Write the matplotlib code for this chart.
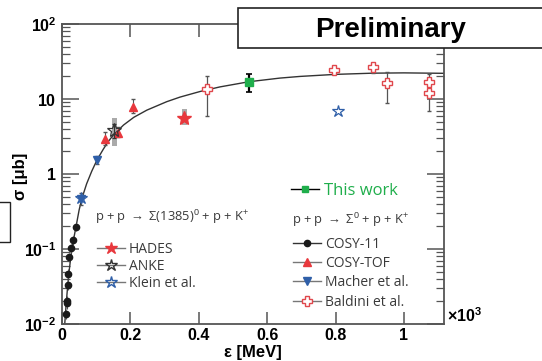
import matplotlib
matplotlib.use("Agg")
import matplotlib.pyplot as plt
from matplotlib.lines import Line2D
from matplotlib.patches import Rectangle
from matplotlib.font_manager import FontProperties
from matplotlib.ticker import NullFormatter, LogLocator

plt.rcParams['font.family'] = ['Liberation Sans', 'DejaVu Sans']
plt.rcParams['mathtext.fontset'] = 'custom'
plt.rcParams['mathtext.rm'] = 'Liberation Sans'
plt.rcParams['mathtext.bf'] = 'Liberation Sans:bold'
plt.rcParams['mathtext.it'] = 'Liberation Sans:italic'

# fit curve
curve_x = [0.008, 0.012, 0.016, 0.020, 0.026, 0.033, 0.042, 0.050, 0.058, 0.072,
           0.087, 0.103, 0.121, 0.135, 0.150, 0.180, 0.210, 0.248, 0.306, 0.345,
           0.404, 0.462, 0.547, 0.637, 0.696, 0.800, 0.909, 1.000, 1.117]
curve_y = [0.010, 0.018, 0.030, 0.047, 0.080, 0.128, 0.21, 0.33, 0.47, 0.74,
           1.09, 1.56, 2.15, 2.7, 3.3, 4.5, 5.7, 7.1, 9.2, 10.6,
           12.6, 14.5, 17.0, 19.0, 20.0, 21.3, 22.1, 22.3, 22.0]

# Sigma0 data
cosy11_x = [0.0117, 0.0137, 0.0140, 0.0167, 0.0175, 0.0213, 0.0254, 0.0313, 0.040]
cosy11_y = [0.0135, 0.0189, 0.0205, 0.0331, 0.0464, 0.0775, 0.102, 0.132, 0.198]
cosy11_err = [0.002, 0.003, 0.003, 0.005, 0.007, 0.01, 0.014, 0.018, 0.025]

cosytof_x = [0.127, 0.165, 0.208]
cosytof_y = [2.97, 3.57, 7.9]
cosytof_lo = [0.5, 0.5, 1.3]
cosytof_hi = [0.7, 0.6, 2.1]

macher_x = [0.0556, 0.103]
macher_y = [0.47, 1.56]
macher_err = [0.08, 0.2]

baldini_x = [0.425, 0.795, 0.910, 0.949, 1.074, 1.074]
baldini_y = [13.5, 24.4, 27.0, 16.2, 16.7, 12.1]
baldini_lo = [7.6, 0.0, 4.5, 7.4, 1.0, 5.1]
baldini_hi = [6.8, 0.0, 1.0, 6.5, 1.0, 9.4]

# Sigma(1385) data
hades_x = [0.358]
hades_y = [5.53]
hades_syst_lo = [4.5]
hades_syst_hi = [7.35]

anke_x = [0.153]
anke_y = [3.86]
anke_err = [0.8]
anke_syst_lo = [2.38]
anke_syst_hi = [5.58]

klein_x = [0.0556, 0.808]
klein_y = [0.48, 6.98]

# this work
this_x = [0.547]
this_y = [17.0]
this_err = [4.5]

red = '#e8383d'
blue = '#2f5fa8'
green = '#1fae4b'
gray = '#777777'

fig = plt.figure(figsize=(5.42, 3.61), dpi=100)
ax = fig.add_axes([62/542, 1-324/361, 382/542, 300/361])
ax.set_yscale('log')
ax.set_xlim(0, 1.117)
ax.set_ylim(0.01, 100)

ax.plot(curve_x, curve_y, color='#333333', lw=1.0, zorder=2)

# systematic bands
ax.bar(anke_x, [h - l for h, l in zip(anke_syst_hi, anke_syst_lo)], bottom=anke_syst_lo,
       width=0.014, color='#aaaaaa', zorder=1)
ax.bar(hades_x, [h - l for h, l in zip(hades_syst_hi, hades_syst_lo)], bottom=hades_syst_lo,
       width=0.014, color='#aaaaaa', zorder=1)

ax.errorbar(cosy11_x, cosy11_y, yerr=cosy11_err, fmt='o', ms=4.5, color='#1a1a1a',
            ecolor='#555555', elinewidth=0.8, capsize=0, zorder=4)
ax.errorbar(cosytof_x, cosytof_y, yerr=[cosytof_lo, cosytof_hi], fmt='^', ms=6, color=red,
            ecolor='#555555', elinewidth=0.8, capsize=1.5, zorder=4)
ax.errorbar(macher_x, macher_y, yerr=macher_err, fmt='v', ms=6, color=blue,
            ecolor='#555555', elinewidth=0.8, capsize=1.5, zorder=4)
ax.errorbar(baldini_x, baldini_y, yerr=[baldini_lo, baldini_hi], fmt='P', ms=7, mfc='white',
            mec='#e0474c', mew=1.0, ecolor='#555555', elinewidth=0.9, capsize=1.5, zorder=4)
ax.errorbar(anke_x, anke_y, yerr=anke_err, fmt='*', ms=10, mfc='none', mec='#333333',
            mew=0.9, ecolor='#333333', elinewidth=0.8, capsize=1.5, zorder=5)
ax.plot(hades_x, hades_y, '*', ms=10, color=red, zorder=5)
ax.plot(klein_x, klein_y, '*', ms=9, mfc='none', mec=blue, mew=0.9, zorder=5)
ax.errorbar(this_x, this_y, yerr=this_err, fmt='s', ms=6, color=green,
            ecolor='black', elinewidth=1.6, capsize=2, capthick=1.2, zorder=6)

# axes style
for s in ax.spines.values():
    s.set_color('#555555')
    s.set_linewidth(1.3)
ax.set_xticks([0, 0.2, 0.4, 0.6, 0.8, 1.0])
ax.set_xticklabels(['0', '0.2', '0.4', '0.6', '0.8', '1'])
ax.yaxis.set_major_locator(LogLocator(base=10, numticks=10))
ax.yaxis.set_minor_locator(LogLocator(base=10, subs=range(2, 10), numticks=10))
ax.yaxis.set_minor_formatter(NullFormatter())
ax.set_yticks([0.01, 0.1, 1, 10, 100])
ax.set_yticklabels([r'$\mathbf{10^{-2}}$', r'$\mathbf{10^{-1}}$', r'$\mathbf{1}$',
                    r'$\mathbf{10}$', r'$\mathbf{10^{2}}$'])
ax.tick_params(axis='both', which='both', direction='in', top=True, right=True,
               color='#555555', labelsize=11.5)
ax.tick_params(axis='x', which='major', length=9, width=1.1, pad=3)
ax.tick_params(axis='y', which='major', length=12, width=1.1, pad=4)
ax.tick_params(axis='y', which='minor', length=6, width=0.9)
for lab in ax.get_xticklabels():
    lab.set_fontweight('bold')

fig.text(20/542, 1-176/361, 'σ [μb]', rotation=90, ha='center', va='center',
         fontsize=12, fontweight='bold')
fig.text(253/542, 1-352/361, 'ε [MeV]', ha='center', va='center',
         fontsize=12, fontweight='bold')
fig.text(447/542, 1-316/361, r'$\mathbf{\times 10^{3}}$', ha='left', va='center',
         fontsize=11.5)

# legends
lfont = FontProperties(family=['Open Sans', 'DejaVu Sans'], size=10)
hfont = FontProperties(family=['Open Sans', 'DejaVu Sans'], size=9.3)
txtc = '#3a3a3a'

def ax_pos(px, py):
    return ((px - 62) / 382, (324 - py) / 300)

ax.text(*ax_pos(95, 217), r'p + p $\rightarrow$ Σ(1385)$^{0}$ + p + K$^{+}$',
        transform=ax.transAxes, ha='left', va='center', color=txtc, fontproperties=hfont)
ax.text(*ax_pos(292, 220), r'p + p $\rightarrow$ Σ$^{0}$ + p + K$^{+}$',
        transform=ax.transAxes, ha='left', va='center', color=txtc, fontproperties=hfont)

h1 = [Line2D([], [], color=gray, lw=1, marker='*', ms=9, mfc=red, mec=red),
      Line2D([], [], color=gray, lw=1, marker='*', ms=9, mfc='none', mec='#333333'),
      Line2D([], [], color=gray, lw=1, marker='*', ms=9, mfc='none', mec=blue)]
leg1 = ax.legend(h1, ['HADES', 'ANKE', 'Klein et al.'], loc='upper left',
                 bbox_to_anchor=ax_pos(97, 242), frameon=False, prop=lfont,
                 handlelength=2.0, handletextpad=0.3, labelspacing=0.15,
                 borderpad=0, borderaxespad=0, labelcolor=txtc)
ax.add_artist(leg1)

h2 = [Line2D([], [], color='#333333', lw=1, marker='o', ms=4.5, mfc='#1a1a1a', mec='#1a1a1a'),
      Line2D([], [], color=gray, lw=1, marker='^', ms=6, mfc=red, mec=red),
      Line2D([], [], color=gray, lw=1, marker='v', ms=6, mfc=blue, mec=blue),
      Line2D([], [], color=gray, lw=1, marker='P', ms=7, mfc='white', mec='#e0474c')]
leg2 = ax.legend(h2, ['COSY-11', 'COSY-TOF', 'Macher et al.', 'Baldini et al.'],
                 loc='upper left', bbox_to_anchor=ax_pos(293, 237), frameon=False,
                 prop=lfont, handlelength=2.0, handletextpad=0.3, labelspacing=0.3,
                 borderpad=0, borderaxespad=0, labelcolor=txtc)
ax.add_artist(leg2)

h3 = [Line2D([], [], color='black', lw=1, marker='s', ms=5, mfc=green, mec=green)]
leg3 = ax.legend(h3, ['This work'], loc='upper left', bbox_to_anchor=ax_pos(291, 183),
                 frameon=False, prop=FontProperties(family=['Open Sans', 'DejaVu Sans'], size=12),
                 handlelength=1.7, handletextpad=0.3, borderpad=0, borderaxespad=0,
                 labelcolor=green)

# boxes on top
fig.add_artist(Rectangle((238/542, 1-48/361), 0.6, 40/361, transform=fig.transFigure,
                         facecolor='white', edgecolor='#222222', lw=1.2, zorder=10))
fig.text(391/542, 1-30/361, 'Preliminary', ha='center', va='center', fontsize=20,
         fontweight='bold', zorder=11)
fig.add_artist(Rectangle((-0.01, 1-242/361), 15/542, 40/361, transform=fig.transFigure,
                         facecolor='white', edgecolor='#222222', lw=1.0, zorder=10))

fig.savefig('out.png', dpi=100)
